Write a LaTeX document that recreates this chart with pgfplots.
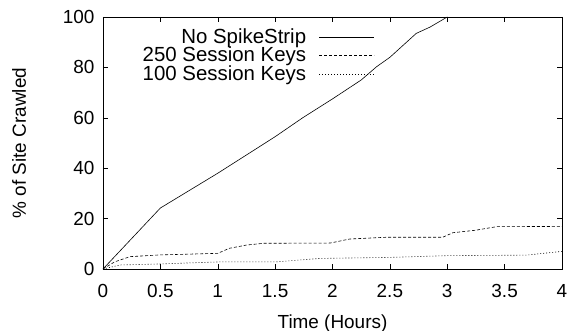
\documentclass[border=0pt]{standalone}
\usepackage{pgfplots}
\pgfplotsset{compat=1.18}
\usepackage{fontspec}
\setmainfont{Liberation Sans}
\newcommand\lf{\fontsize{19}{22}\selectfont}
\newcommand\lgf{\fontsize{20.5}{23}\selectfont}
\begin{document}
\lf
\begin{tikzpicture}
\useasboundingbox (-103bp,-62bp) rectangle (466bp,269bp);
\begin{axis}[
  scale only axis,
  width=459bp, height=252bp,
  at={(0,0)}, anchor=south west,
  xmin=0, xmax=4, ymin=0, ymax=100,
  xtick={0,0.5,...,4},
  ytick={0,20,...,100},
  xticklabels={0,0.5,1,1.5,2,2.5,3,3.5,4},
  tick align=inside,
  major tick length=5bp,
  tick style={black, line width=0.5pt},
  axis line style={line width=0.7pt},
  /pgf/number format/assume math mode=true,
  tick label style={font=\lf},
  label style={font=\lf},
  xlabel={Time (Hours)},
  ylabel={\% of Site Crawled},
  xticklabel style={yshift=-9bp},
  yticklabel style={xshift=-2bp},
  xlabel style={yshift=-4bp},
  ylabel style={yshift=24bp},
  legend style={at={(0.599,0.972)}, anchor=north east, draw=none, fill=none,
    font=\lgf, row sep=-3bp, legend cell align=right},
  legend plot pos=right,
  legend image code/.code={\path (0bp,0bp); \draw[#1] (11bp,0bp) -- (66bp,0bp);},
  every axis plot/.append style={black, line width=0.6pt},
]
\addplot[solid] coordinates {
(0,0) (0.5,24.2) (1,38) (1.5,52.5) (1.74,60) (2,67.5) (2.25,75) (2.385,80.3) (2.5,84) (2.73,93.5) (2.85,96) (3,100)
};
\addlegendentry{No SpikeStrip}
\addplot[dash pattern=on 3bp off 2bp] coordinates {
(0,0) (0.1,2.8) (0.235,4.9) (0.5,5.6) (1.0,6.2) (1.1,8.2) (1.25,9.5) (1.4,10.2) (1.98,10.3) (2.15,11.9) (2.47,12.6) (2.96,12.6) (3.05,14.4) (3.25,15.4) (3.43,16.8) (4,16.9)
};
\addlegendentry{250 Session Keys}
\addplot[dash pattern=on 1bp off 2bp] coordinates {
(0,0) (0.15,1.6) (0.5,2.0) (1,2.8) (1.5,2.8) (1.89,4.2) (2.5,4.6) (3,5.3) (3.69,5.5) (4,7.0)
};
\addlegendentry{100 Session Keys}
\end{axis}
\end{tikzpicture}
\end{document}
